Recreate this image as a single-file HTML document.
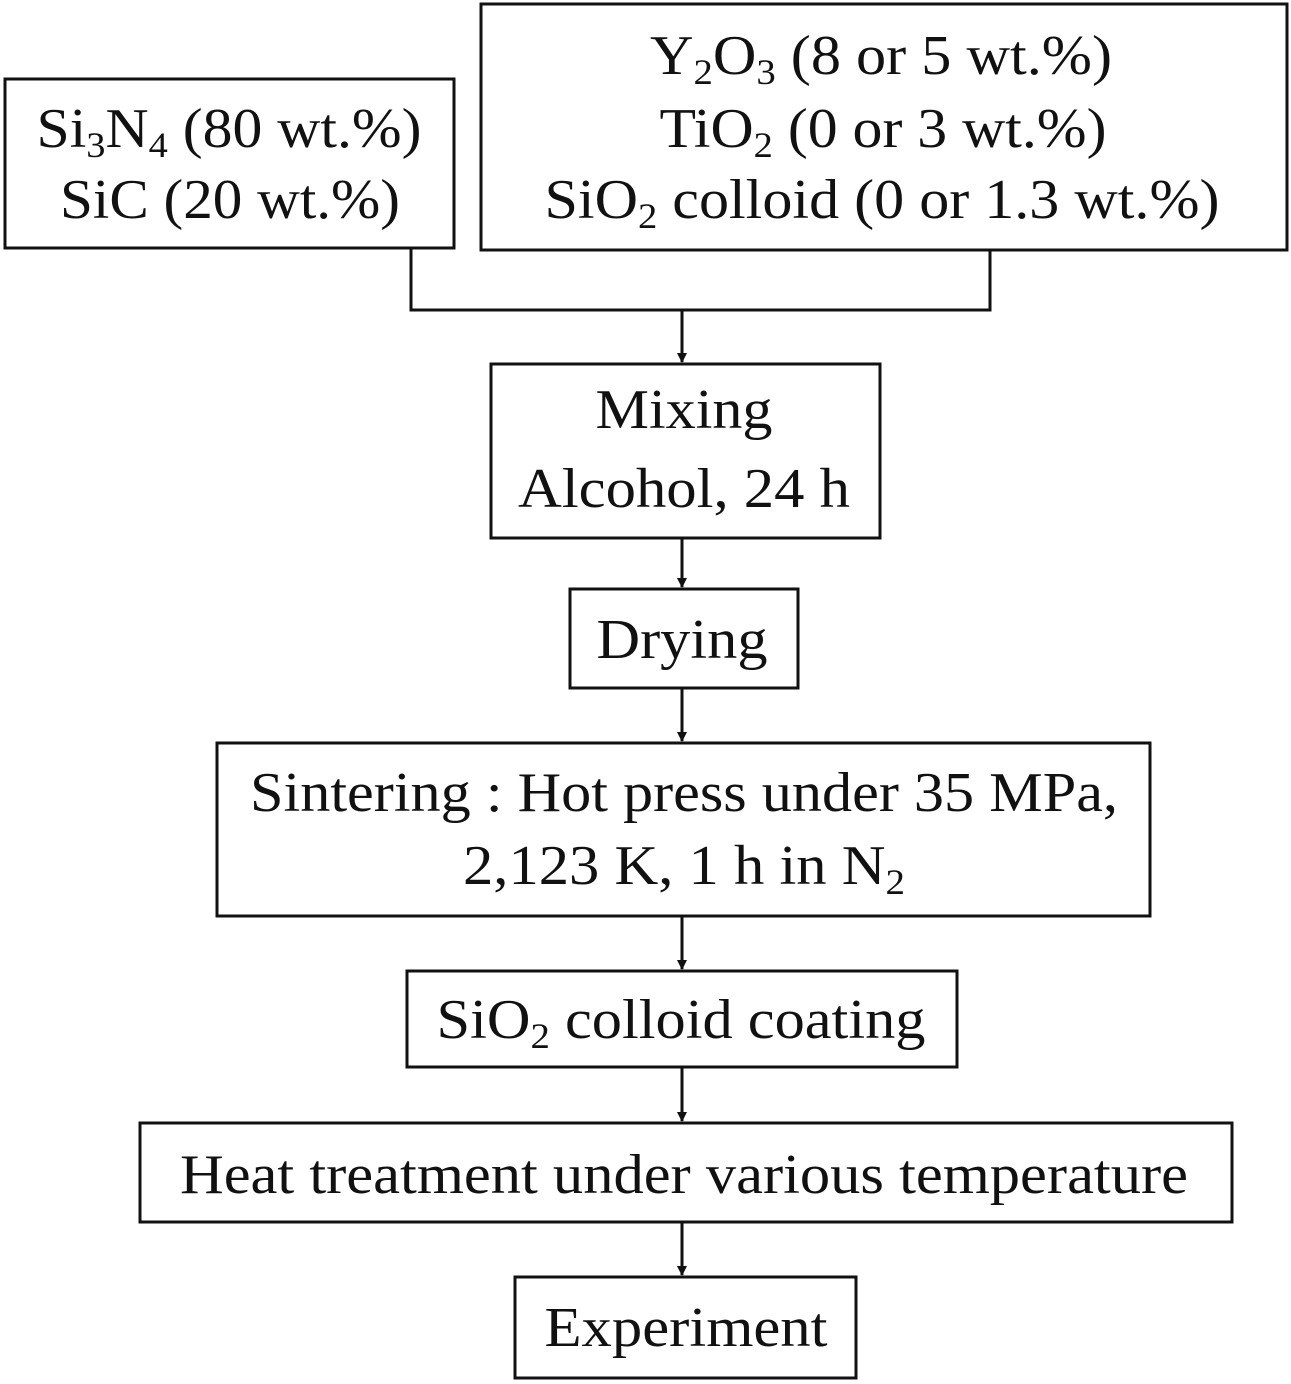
<!DOCTYPE html>
<html><head><meta charset="utf-8"><style>
html,body{margin:0;padding:0;background:#fff;}
svg{display:block;}
text{font-family:"Liberation Serif",serif;font-size:56px;fill:#111;text-anchor:middle;}
</style></head><body>
<svg width="1291" height="1384" viewBox="0 0 1291 1384" xmlns="http://www.w3.org/2000/svg">
<defs><marker id="a" markerWidth="10" markerHeight="10" refX="9" refY="5" orient="auto" markerUnits="userSpaceOnUse"><path d="M0,0 L10,5 L0,10 z" fill="#111"/></marker></defs>
<g fill="none" stroke="#111" stroke-width="3">
<rect x="5" y="79" width="449" height="169"/>
<rect x="481" y="4" width="806" height="246"/>
<rect x="491" y="364" width="389" height="174"/>
<rect x="570" y="589" width="228" height="99"/>
<rect x="217" y="743" width="933" height="173"/>
<rect x="407" y="971" width="550" height="96"/>
<rect x="140" y="1123" width="1092" height="99"/>
<rect x="515" y="1277" width="341" height="101"/>
<polyline points="411,248 411,310 990,310 990,250"/>
<line x1="682" y1="310" x2="682" y2="362" marker-end="url(#a)"/>
<line x1="682" y1="538" x2="682" y2="587" marker-end="url(#a)"/>
<line x1="682" y1="688" x2="682" y2="741" marker-end="url(#a)"/>
<line x1="682" y1="916" x2="682" y2="969" marker-end="url(#a)"/>
<line x1="682" y1="1067" x2="682" y2="1121" marker-end="url(#a)"/>
<line x1="682" y1="1222" x2="682" y2="1275" marker-end="url(#a)"/>
</g>
<text x="229" y="147" textLength="385" lengthAdjust="spacingAndGlyphs">Si<tspan font-size="36" dy="10">3</tspan><tspan dy="-10">N</tspan><tspan font-size="36" dy="10">4</tspan><tspan dy="-10"> (80 wt.%)</tspan></text>
<text x="230" y="218" textLength="340" lengthAdjust="spacingAndGlyphs">SiC (20 wt.%)</text>
<text x="881" y="74" textLength="462" lengthAdjust="spacingAndGlyphs">Y<tspan font-size="36" dy="10">2</tspan><tspan dy="-10">O</tspan><tspan font-size="36" dy="10">3</tspan><tspan dy="-10"> (8 or 5 wt.%)</tspan></text>
<text x="883" y="147" textLength="447" lengthAdjust="spacingAndGlyphs">TiO<tspan font-size="36" dy="10">2</tspan><tspan dy="-10"> (0 or 3 wt.%)</tspan></text>
<text x="882" y="218" textLength="675" lengthAdjust="spacingAndGlyphs">SiO<tspan font-size="36" dy="10">2</tspan><tspan dy="-10"> colloid (0 or 1.3 wt.%)</tspan></text>
<text x="684" y="428" textLength="177" lengthAdjust="spacingAndGlyphs">Mixing</text>
<text x="684" y="507" textLength="332" lengthAdjust="spacingAndGlyphs">Alcohol, 24 h</text>
<text x="682" y="658" textLength="171" lengthAdjust="spacingAndGlyphs">Drying</text>
<text x="684" y="811" textLength="868" lengthAdjust="spacingAndGlyphs">Sintering : Hot press under 35 MPa,</text>
<text x="684" y="884" textLength="442" lengthAdjust="spacingAndGlyphs">2,123 K, 1 h in N<tspan font-size="36" dy="10">2</tspan></text>
<text x="681" y="1038" textLength="489" lengthAdjust="spacingAndGlyphs">SiO<tspan font-size="36" dy="10">2</tspan><tspan dy="-10"> colloid coating</tspan></text>
<text x="684" y="1193" textLength="1008" lengthAdjust="spacingAndGlyphs">Heat treatment under various temperature</text>
<text x="686" y="1346" textLength="283" lengthAdjust="spacingAndGlyphs">Experiment</text>
</svg>
</body></html>
